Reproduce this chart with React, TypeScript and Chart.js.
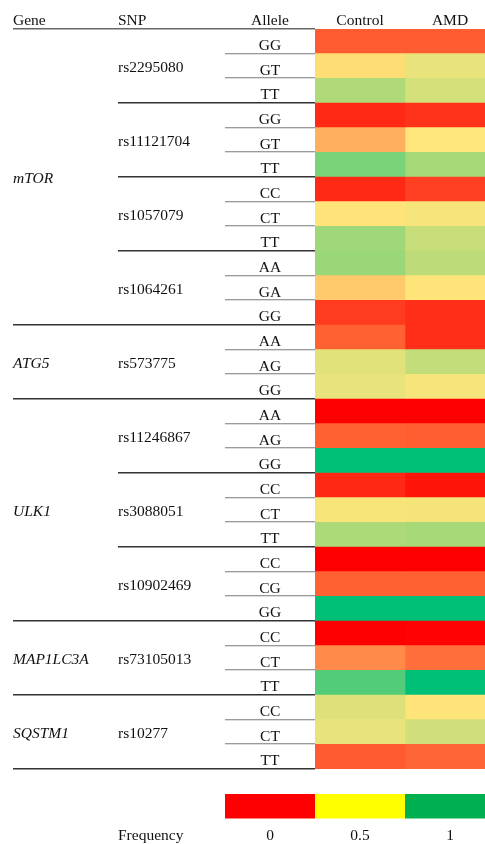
import React, { useEffect, useRef } from 'react';
import { Chart, registerables } from 'chart.js';

Chart.register(...registerables);

// ---------- data ----------
const genes = ['mTOR', 'ATG5', 'ULK1', 'MAP1LC3A', 'SQSTM1'];
const snps = ['rs2295080', 'rs11121704', 'rs1057079', 'rs1064261', 'rs573775', 'rs11246867', 'rs3088051', 'rs10902469', 'rs73105013', 'rs10277'];
const snpGene = ['mTOR', 'mTOR', 'mTOR', 'mTOR', 'ATG5', 'ULK1', 'ULK1', 'ULK1', 'MAP1LC3A', 'SQSTM1'];
const alleles = [
  ['GG', 'GT', 'TT'],
  ['GG', 'GT', 'TT'],
  ['CC', 'CT', 'TT'],
  ['AA', 'GA', 'GG'],
  ['AA', 'AG', 'GG'],
  ['AA', 'AG', 'GG'],
  ['CC', 'CT', 'TT'],
  ['CC', 'CG', 'GG'],
  ['CC', 'CT', 'TT'],
  ['CC', 'CT', 'TT'],
];
const groups = ['Control', 'AMD'];
const controlFreq = [
  0.2, 0.48, 0.655,
  0.09, 0.38, 0.76,
  0.09, 0.495, 0.686,
  0.7, 0.44, 0.13,
  0.21, 0.557, 0.545,
  0, 0.21, 1,
  0.087, 0.514, 0.66,
  0, 0.21, 1,
  0, 0.3, 0.84,
  0.565, 0.545, 0.195,
];
const amdFreq = [
  0.2, 0.545, 0.585,
  0.11, 0.5, 0.67,
  0.14, 0.517, 0.608,
  0.63, 0.495, 0.1,
  0.1, 0.62, 0.517,
  0, 0.205, 1,
  0.043, 0.52, 0.67,
  0, 0.21, 1,
  0.005, 0.24, 1,
  0.495, 0.59, 0.22,
];
const legendTicks = ['0', '0.5', '1'];
const legendColors = ['#FF0000', '#FFFF00', '#00B050'];
const legendTitle = 'Frequency';

// colour scale stops (value -> rgb)
const scaleStops = [0, 0.5, 1];
const scaleRgb = [
  [255, 0, 0],
  [255, 230, 122],
  [0, 192, 120],
];

function cellColor(v: number): string {
  let i = 0;
  while (i < scaleStops.length - 2 && v > scaleStops[i + 1]) i++;
  const t = Math.max(0, Math.min(1, (v - scaleStops[i]) / (scaleStops[i + 1] - scaleStops[i])));
  const a = scaleRgb[i];
  const b = scaleRgb[i + 1];
  const c = a.map((av, k) => Math.round(av + (b[k] - av) * t));
  return `rgb(${c[0]},${c[1]},${c[2]})`;
}

// rows built from the arrays
const rows: { gene: string; snp: string; allele: string; snpIdx: number }[] = [];
snps.forEach((s, si) => {
  alleles[si].forEach((a) => rows.push({ gene: snpGene[si], snp: s, allele: a, snpIdx: si }));
});
const rowLabels = rows.map((r) => `${r.snp} ${r.allele}`);

const FONT = '"Liberation Serif", "Times New Roman", serif';
const FS = 15.5;

const tablePlugin = {
  id: 'tablePlugin',
  afterDraw(chart: any) {
    const ctx = chart.ctx as CanvasRenderingContext2D;
    const xs = chart.scales.x;
    const ys = chart.scales.y;
    const area = chart.chartArea;
    const n = rows.length;
    const rowH = (area.bottom - area.top) / n;
    const colX = (v: number) => xs.getPixelForValue(v);
    const geneX = 13;
    const snpX = 118;
    const alleleLeft = colX(-1);
    const right = area.left;

    ctx.save();
    ctx.fillStyle = '#111';
    ctx.textBaseline = 'alphabetic';

    // headers
    ctx.font = `${FS}px ${FONT}`;
    ctx.textAlign = 'left';
    ctx.fillText('Gene', geneX, area.top - 4);
    ctx.fillText('SNP', snpX, area.top - 4);
    ctx.textAlign = 'center';
    ctx.fillText('Allele', colX(-0.5), area.top - 4);
    groups.forEach((g, i) => ctx.fillText(g, colX(i + 0.5), area.top - 4));

    // allele labels
    rows.forEach((r, i) => {
      const cy = ys.getPixelForValue(i);
      ctx.textAlign = 'center';
      ctx.fillText(r.allele, colX(-0.5), cy + 8.5);
    });

    // SNP labels
    ctx.textAlign = 'left';
    snps.forEach((s, si) => {
      const idx = rows.map((r, i) => (r.snpIdx === si ? i : -1)).filter((i) => i >= 0);
      const cy = (ys.getPixelForValue(idx[0]) + ys.getPixelForValue(idx[idx.length - 1])) / 2;
      ctx.fillText(s, snpX, cy + 6);
    });

    // gene labels
    ctx.font = `italic ${FS}px ${FONT}`;
    genes.forEach((g) => {
      const idx = rows.map((r, i) => (r.gene === g ? i : -1)).filter((i) => i >= 0);
      const cy = (ys.getPixelForValue(idx[0]) + ys.getPixelForValue(idx[idx.length - 1])) / 2;
      ctx.fillText(g, geneX, cy + 6);
    });

    // lines
    const hline = (y: number, x0: number, color: string, w: number) => {
      ctx.beginPath();
      ctx.strokeStyle = color;
      ctx.lineWidth = w;
      ctx.moveTo(x0, y);
      ctx.lineTo(right, y);
      ctx.stroke();
    };
    for (let k = 0; k <= n; k++) {
      const y = Math.round(area.top + k * rowH) - 0.25;
      if (k === 0 || k === n || rows[k].gene !== rows[k - 1].gene) {
        hline(y, geneX, k === 0 ? '#666' : '#333', 1.4);
      } else if (rows[k].snp !== rows[k - 1].snp) {
        hline(y, snpX, '#333', 1.4);
      } else {
        hline(y, alleleLeft, '#7a7a7a', 1.2);
      }
    }

    // colour legend
    const ly0 = area.bottom + 25;
    const lh = 24.5;
    legendColors.forEach((c, i) => {
      const x0 = colX(i - 1);
      const x1 = colX(i);
      ctx.fillStyle = c;
      ctx.fillRect(x0, ly0, x1 - x0, lh);
    });
    ctx.fillStyle = '#111';
    ctx.font = `${FS}px ${FONT}`;
    ctx.textAlign = 'left';
    ctx.fillText(legendTitle, snpX, ly0 + lh + 21);
    ctx.textAlign = 'center';
    legendTicks.forEach((t, i) => ctx.fillText(t, colX(i - 0.5), ly0 + lh + 21));

    ctx.restore();
  },
};

export default function App() {
  const ref = useRef<HTMLCanvasElement>(null);
  useEffect(() => {
    if (!ref.current) return;
    const chart = new Chart(ref.current, {
      type: 'bar',
      data: {
        labels: rowLabels,
        datasets: [
          {
            label: groups[0],
            data: rows.map(() => [0, 1]) as any,
            backgroundColor: controlFreq.map(cellColor),
            borderWidth: 0,
            grouped: false,
            barPercentage: 1,
            categoryPercentage: 1,
          } as any,
          {
            label: groups[1],
            data: rows.map(() => [1, 2]) as any,
            backgroundColor: amdFreq.map(cellColor),
            borderWidth: 0,
            grouped: false,
            barPercentage: 1,
            categoryPercentage: 1,
          } as any,
        ],
      },
      options: {
        indexAxis: 'y',
        responsive: false,
        devicePixelRatio: 1,
        animation: false,
        layout: { padding: { left: 315, top: 29, right: 0, bottom: 75 } },
        plugins: { legend: { display: false }, tooltip: { enabled: false }, title: { display: false } },
        scales: {
          x: { type: 'linear', min: 0, max: 170 / 90, display: false },
          y: { type: 'category', display: false },
        },
      },
      plugins: [tablePlugin],
    });
    return () => chart.destroy();
  }, []);
  return (
    <div style={{ position: 'fixed', left: 0, top: 0, width: 485, height: 844, background: '#fff' }}>
      <canvas ref={ref} width={485} height={844} style={{ display: 'block' }} />
    </div>
  );
}
